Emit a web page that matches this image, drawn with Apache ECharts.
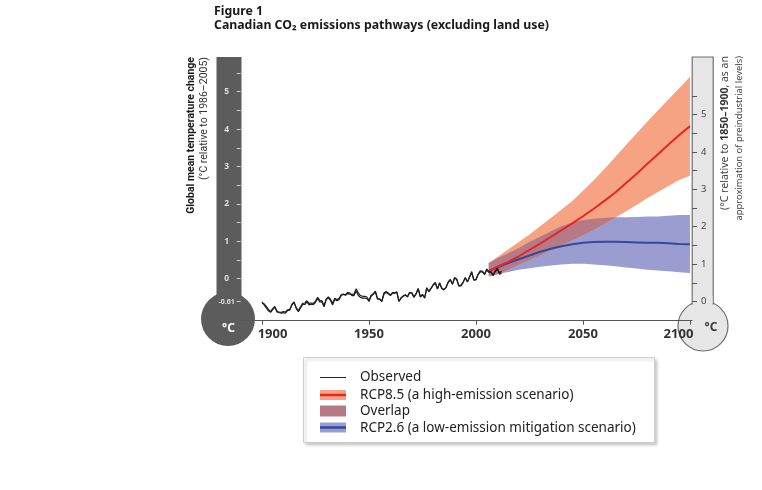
<!DOCTYPE html>
<html><head><meta charset="utf-8">
<script src="https://cdn.jsdelivr.net/npm/echarts@6/dist/echarts.min.js"></script>
<style>html,body{margin:0;padding:0;background:#fff}#c{width:762px;height:490px}</style>
</head><body><div id="c"></div>
<script>
// ---- data ----
const obsStartYear = 1900;
const observedA = [
-0.62,-0.70,-0.78,-0.86,-0.90,-0.83,-0.76,-0.89,-0.91,-0.92,
-0.91,-0.92,-0.85,-0.84,-0.68,-0.62,-0.80,-0.88,-0.78,-0.69,
-0.69,-0.62,-0.70,-0.68,-0.69,-0.63,-0.53,-0.62,-0.62,-0.75,
-0.56,-0.51,-0.58,-0.70,-0.55,-0.59,-0.56,-0.45,-0.42,-0.44,
-0.40,-0.41,-0.42,-0.41,-0.27,-0.38,-0.45,-0.47,-0.47,-0.49,
-0.58,-0.44,-0.40,-0.33,-0.53,-0.54,-0.60,-0.38,-0.34,-0.38,
-0.44,-0.37,-0.38,-0.35,-0.61,-0.52,-0.47,-0.44,-0.49,-0.36,
-0.39,-0.50,-0.41,-0.26,-0.49,-0.43,-0.52,-0.24,-0.35,-0.26,
-0.16,-0.10,-0.28,-0.11,-0.26,-0.30,-0.24,-0.09,-0.02,-0.15,
0.03,-0.01,-0.20,-0.19,-0.10,0.03,-0.09,0.05,0.19,-0.04,
-0.03,0.12,0.21,0.20,0.12,0.26,0.19,0.19,0.10,0.21,
0.28,0.16,0.20];
const observedB = [
-0.66,-0.67,-0.74,-0.82,-0.88,-0.80,-0.74,-0.87,-0.89,-0.90,
-0.88,-0.89,-0.83,-0.82,-0.70,-0.64,-0.77,-0.85,-0.75,-0.66,
-0.65,-0.59,-0.66,-0.65,-0.66,-0.60,-0.50,-0.58,-0.59,-0.72,
-0.54,-0.49,-0.55,-0.66,-0.52,-0.56,-0.53,-0.43,-0.41,-0.43,
-0.37,-0.38,-0.45,-0.45,-0.33,-0.45,-0.50,-0.52,-0.52,-0.53,
-0.61,-0.47,-0.42,-0.36,-0.55,-0.55,-0.61,-0.41,-0.37,-0.40,
-0.45,-0.38,-0.39,-0.36,-0.60,-0.51,-0.46,-0.43,-0.48,-0.37,
-0.38,-0.48,-0.40,-0.27,-0.48,-0.42,-0.51,-0.25,-0.34,-0.25,
-0.17,-0.12,-0.27,-0.12,-0.25,-0.29,-0.23,-0.10,-0.03,-0.14,
0.02,-0.02,-0.19,-0.17,-0.09,0.02,-0.08,0.04,0.16,-0.03,
-0.02,0.11,0.18,0.18,0.11,0.23,0.17,0.17,0.08,0.19,
0.25,0.12,0.16];
const projYears = [2006,2010,2015,2020,2025,2030,2035,2040,2045,2050,2055,2060,2065,2070,2075,2080,2085,2090,2095,2100];
const rcp85Mean = [0.21,0.32,0.45,0.60,0.77,0.94,1.12,1.30,1.48,1.67,1.87,2.08,2.30,2.55,2.80,3.07,3.33,3.59,3.84,4.08];
const rcp85High = [0.42,0.58,0.78,0.98,1.18,1.40,1.62,1.85,2.08,2.35,2.63,2.93,3.25,3.57,3.88,4.20,4.50,4.80,5.09,5.40];
const rcp85Low  = [0.05,0.12,0.24,0.37,0.50,0.63,0.76,0.90,1.03,1.16,1.30,1.47,1.63,1.80,1.97,2.15,2.32,2.48,2.64,2.75];
const rcp26Mean = [0.21,0.30,0.42,0.52,0.62,0.72,0.80,0.87,0.92,0.96,0.98,0.99,0.99,0.98,0.97,0.96,0.96,0.95,0.93,0.92];
const rcp26High = [0.42,0.55,0.68,0.82,0.98,1.12,1.27,1.40,1.50,1.57,1.60,1.62,1.64,1.64,1.65,1.66,1.66,1.68,1.70,1.70];
const rcp26Low  = [0.08,0.12,0.18,0.24,0.28,0.32,0.35,0.38,0.40,0.40,0.38,0.36,0.33,0.30,0.27,0.24,0.22,0.20,0.17,0.15];
const xTickYears = [1900,1950,2000,2050,2100];
const leftTickLabels = [-0.61,0,1,2,3,4,5];
const leftTicks = [-0.61,0,0.5,1,1.5,2,2.5,3,3.5,4,4.5,5,5.5];
const rightTickLabels = [0,1,2,3,4,5];
const rightTicks = [0,0.5,1,1.5,2,2.5,3,3.5,4,4.5,5,5.5];
const preindustrialOffset = 0.61;

// ---- styles ----
const C = {
  orange:'#f6a383', overlap:'#b67a86', blue:'#9b9dd0',
  red:'#e5252a', navy:'#2e4b9c', obs:'#1f1f1f',
  thermoDark:'#5c5c5c', thermoLight:'#e6e6e6', thermoEdge:'#6e6e6e'
};
const FONT = "'Noto Sans', 'Open Sans', sans-serif";
const NARROW = "Roboto, 'Noto Sans', sans-serif";

const yMinL = -1.123, yMaxL = 5.928;

function polyBand(name, xs, lows, highs, color, z){
  return {
    type:'custom', name, xAxisIndex:0, yAxisIndex:0, z, silent:true,
    data:[[xs[0], lows[0]]],
    renderItem:function(params, api){
      const pts = [];
      for (let i=0;i<xs.length;i++) pts.push(api.coord([xs[i], highs[i]]));
      for (let i=xs.length-1;i>=0;i--) pts.push(api.coord([xs[i], lows[i]]));
      return {type:'polygon', shape:{points:pts}, style:{fill:color}};
    }
  };
}
// overlap of the two ranges
const ovX=[], ovLo=[], ovHi=[];
for (let i=0;i<projYears.length;i++){
  const lo=Math.max(rcp85Low[i], rcp26Low[i]), hi=Math.min(rcp85High[i], rcp26High[i]);
  if (hi>=lo){ ovX.push(projYears[i]); ovLo.push(lo); ovHi.push(hi); }
  else {
    if (i>0){
      const lo0=Math.max(rcp85Low[i-1], rcp26Low[i-1]), hi0=Math.min(rcp85High[i-1], rcp26High[i-1]);
      if (hi0>=lo0){
        const d0=hi0-lo0, d1=hi-lo, t=d0/(d0-d1);
        const yr=projYears[i-1]+t*(projYears[i]-projYears[i-1]);
        const v=lo0+t*(lo-lo0);
        ovX.push(yr); ovLo.push(v); ovHi.push(v);
      }
    }
    break;
  }
}

const chart = echarts.init(document.getElementById('c'), null, {renderer:'canvas'});

function txt(x,y,text,opt){
  return Object.assign({type:'text', x, y, z:10, silent:true,
    style:Object.assign({text, font:'12px '+FONT, fill:'#222', align:'left', verticalAlign:'middle', textAlign:'left', textVerticalAlign:'middle'}, opt && opt.style || {})},
    opt && opt.el || {});
}

const graphics = [
  // left thermometer
  {type:'rect', z:1, silent:true, shape:{x:216.5, y:57, width:25, height:262}, style:{fill:C.thermoDark}},
  {type:'circle', z:1, silent:true, shape:{cx:228, cy:319, r:27}, style:{fill:C.thermoDark}},
  txt(228.5, 329, '°C', {style:{font:'bold 12px '+FONT, fill:'#ffffff', align:'center', textAlign:'center'}}),
  // right thermometer
  {type:'circle', z:1, silent:true, shape:{cx:703, cy:326, r:25}, style:{fill:C.thermoLight, stroke:C.thermoEdge, lineWidth:1.2}},
  {type:'rect', z:1, silent:true, shape:{x:692.2, y:57, width:21, height:247}, style:{fill:C.thermoLight, stroke:C.thermoEdge, lineWidth:1.2}},
  {type:'rect', z:1, silent:true, shape:{x:692.9, y:296, width:19.6, height:14}, style:{fill:C.thermoLight}},
  txt(711, 328, '°C', {style:{font:'bold 12px '+FONT, fill:'#3a3a3a', align:'center', textAlign:'center'}}),
  // left vertical titles
  txt(0,0,'Global mean temperature change',{el:{x:191.5, y:57, rotation:Math.PI/2}, style:{font:'bold 10.5px '+NARROW, fill:'#1a1a1a', align:'right', textAlign:'right'}}),
  txt(0,0,'(°C relative to 1986–2005)',{el:{x:204.5, y:57, rotation:Math.PI/2}, style:{font:'10.5px '+NARROW, fill:'#333', align:'right', textAlign:'right'}}),
  // right vertical titles
  {type:'text', z:10, silent:true, x:725.5, y:56, rotation:Math.PI/2,
    style:{text:'{n|(°C relative to }{b|1850–1900}{n|, as an}', align:'right', verticalAlign:'middle', textAlign:'right', textVerticalAlign:'middle',
      rich:{n:{font:'10.5px '+FONT, fill:'#444'}, b:{font:'bold 10.5px '+FONT, fill:'#333'}}}},
  txt(0,0,'approximation of preindustrial levels)',{el:{x:739.5, y:56, rotation:Math.PI/2}, style:{font:'9.4px '+FONT, fill:'#444', align:'right', textAlign:'right'}}),
  // title
  txt(214, 11, 'Figure 1', {style:{font:'bold 12.3px '+FONT, fill:'#1a1a1a'}}),
  txt(214, 25, 'Canadian CO₂ emissions pathways (excluding land use)', {style:{font:'bold 12.3px '+FONT, fill:'#1a1a1a'}}),
  // legend box
  {type:'rect', z:8, silent:true, shape:{x:303.5, y:357.5, width:351, height:85},
    style:{fill:'#fff', stroke:'#cfcfcf', lineWidth:1, shadowBlur:3, shadowOffsetX:2, shadowOffsetY:2, shadowColor:'rgba(0,0,0,0.22)'}},
  {type:'line', z:9, silent:true, shape:{x1:320, y1:377.5, x2:346, y2:377.5}, style:{stroke:'#222', lineWidth:1}},
  {type:'rect', z:9, silent:true, shape:{x:320, y:390, width:26, height:10}, style:{fill:C.orange}},
  {type:'line', z:9, silent:true, shape:{x1:320, y1:395, x2:346, y2:395}, style:{stroke:C.red, lineWidth:2.5}},
  {type:'rect', z:9, silent:true, shape:{x:320, y:405.5, width:26, height:11}, style:{fill:C.overlap}},
  {type:'rect', z:9, silent:true, shape:{x:320, y:422.5, width:26, height:10}, style:{fill:C.blue}},
  {type:'line', z:9, silent:true, shape:{x1:320, y1:427.5, x2:346, y2:427.5}, style:{stroke:C.navy, lineWidth:2.5}},
  txt(360, 377, 'Observed', {style:{font:'13.5px '+FONT, fill:'#222'}}),
  txt(360, 395, 'RCP8.5 (a high-emission scenario)', {style:{font:'13.5px '+FONT, fill:'#222'}}),
  txt(360, 411, 'Overlap', {style:{font:'13.5px '+FONT, fill:'#222'}}),
  txt(360, 428, 'RCP2.6 (a low-emission mitigation scenario)', {style:{font:'13.5px '+FONT, fill:'#222'}})
];

const option = {
  animation:false,
  backgroundColor:'#ffffff',
  grid:{left:240.6, right:69.9, top:57, bottom:169.3},
  xAxis:{
    type:'value', min:1890, max:2101, z:5,
    axisLine:{onZero:false, lineStyle:{color:'#555', width:1}},
    axisTick:{customValues:xTickYears, length:4, lineStyle:{color:'#555'}},
    splitLine:{show:false},
    axisLabel:{customValues:xTickYears, margin:7, color:'#333', fontSize:13, fontWeight:'bold', fontFamily:FONT,
      formatter:function(v){ if (v===1900) return '{a|1900}'; if (v===2100) return '{c|2100}'; return String(v); },
      rich:{a:{padding:[0,0,0,21], color:'#333', fontSize:13, fontWeight:'bold', fontFamily:FONT},
            c:{padding:[0,23,0,0], color:'#333', fontSize:13, fontWeight:'bold', fontFamily:FONT}}}
  },
  yAxis:[
    {type:'value', position:'left', min:yMinL, max:yMaxL, z:5,
      axisLine:{show:false, onZero:false}, splitLine:{show:false},
      axisTick:{show:true, customValues:leftTicks, length:4, lineStyle:{color:'#d0d0d0', width:1}},
      axisLabel:{customValues:leftTickLabels, margin:14, align:'center', color:'#dedede', fontSize:8.5, fontWeight:'bold', fontFamily:FONT,
        formatter:function(v){ return Math.abs(v+0.61)<1e-6 ? '{s|-0.61}' : String(v); },
        rich:{s:{fontSize:7, color:'#dedede', fontFamily:FONT}}}},
    {type:'value', position:'right', min:yMinL+preindustrialOffset, max:yMaxL+preindustrialOffset, z:5,
      axisLine:{show:false, onZero:false}, splitLine:{show:false},
      axisTick:{show:true, customValues:rightTicks, length:5, lineStyle:{color:'#555', width:1}},
      axisLabel:{customValues:rightTickLabels, margin:9, color:'#444', fontSize:9.5, fontFamily:FONT}}
  ],
  series:[
    polyBand('RCP2.6 range', projYears, rcp26Low, rcp26High, C.blue, 2),
    polyBand('RCP8.5 range', projYears, rcp85Low, rcp85High, C.orange, 2),
    polyBand('Overlap', ovX, ovLo, ovHi, C.overlap, 2),
    {type:'line', name:'RCP2.6', data:projYears.map((y,i)=>[y, rcp26Mean[i]]), showSymbol:false, silent:true, z:3,
      lineStyle:{color:C.navy, width:2}},
    {type:'line', name:'RCP8.5', data:projYears.map((y,i)=>[y, rcp85Mean[i]]), showSymbol:false, silent:true, z:3,
      lineStyle:{color:C.red, width:2}},
    {type:'line', name:'Observed A', data:observedA.map((v,i)=>[obsStartYear+i, v]), showSymbol:false, silent:true, z:4,
      lineStyle:{color:C.obs, width:1.2}},
    {type:'line', name:'Observed B', data:observedB.map((v,i)=>[obsStartYear+i, v]), showSymbol:false, silent:true, z:4,
      lineStyle:{color:C.obs, width:1.2}}
  ],
  graphic:{elements:graphics}
};
chart.setOption(option);
</script></body></html>
